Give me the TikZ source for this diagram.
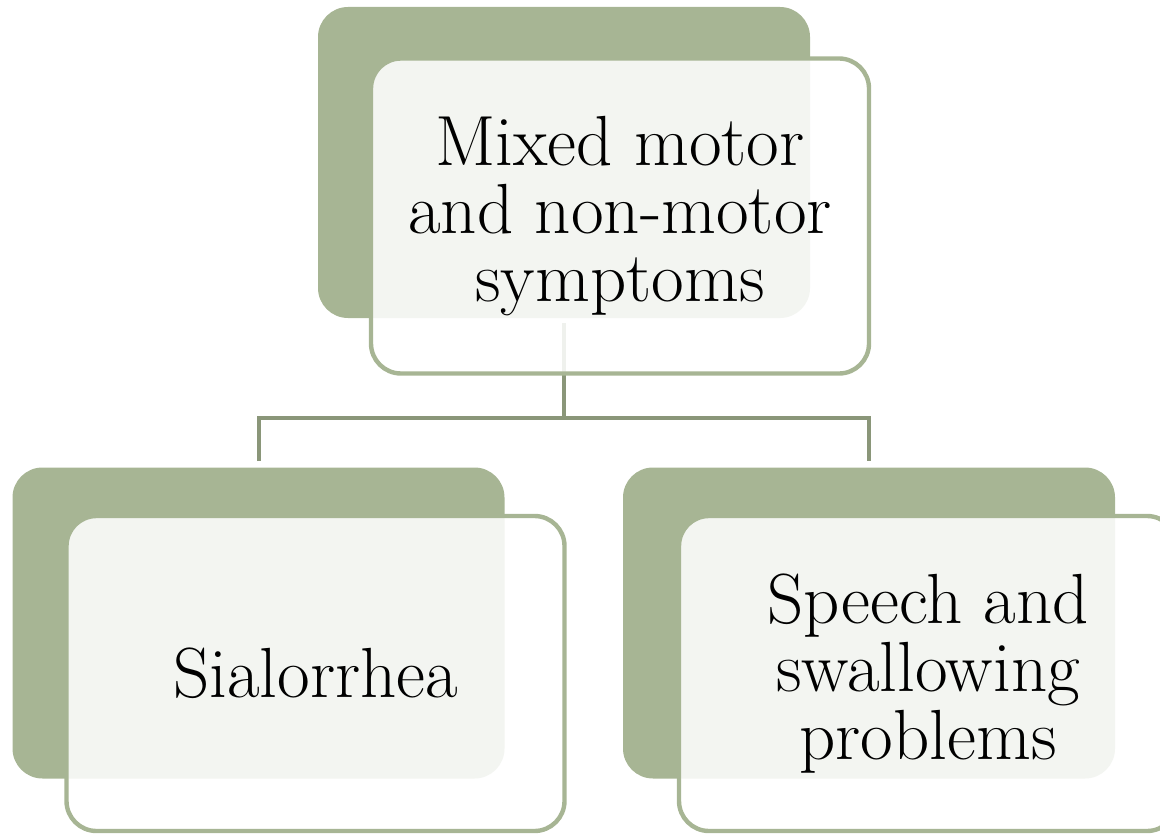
\documentclass[tikz,border=0pt]{standalone}
\usepackage{fontspec}
\definecolor{backgreen}{RGB}{167,181,148}
\definecolor{framegreen}{RGB}{167,181,148}
\definecolor{linkgreen}{RGB}{138,150,121}
\tikzset{
  backbox/.style={fill=backgreen, draw=none, rounded corners=15pt, inner sep=0pt,
    minimum width=246pt, minimum height=155.5pt},
  frontbox/.style={draw=framegreen, line width=2.2pt, fill=white, fill opacity=0.87,
    text opacity=1, rounded corners=15pt, inner sep=0pt, align=center,
    minimum width=249pt, minimum height=157.5pt,
    font=\fontsize{35.5pt}{34pt}\selectfont},
  link/.style={draw=linkgreen, line width=2pt}
}
\begin{document}
\begin{tikzpicture}[x=0.5pt,y=-0.5pt]
\useasboundingbox (0,0) rectangle (1160,834);
\clip (0,0) rectangle (1160,834);
% back boxes
\node[backbox] (topback) at (564,162.5) {};
\node[backbox] (leftback) at (258.5,623) {};
\node[backbox] (rightback) at (869,623) {};
% connectors
\coordinate (lefttip) at ([yshift=3pt]leftback.north);
\coordinate (righttip) at ([yshift=3pt]rightback.north);
\draw[link] ([yshift=-2.5pt]topback.south) -- ++(0,95) coordinate (mid);
\draw[link] (lefttip) |- (mid) -| (righttip);
% front boxes
\node[frontbox] (top) at (620,216) {Mixed motor\\and non-motor\\symptoms};
\node[frontbox] (left) at (315.5,673.5) {Sialorrhea};
\node[frontbox] (right) at (928,673.5) {Speech and\\swallowing\\problems};
\end{tikzpicture}
\end{document}
